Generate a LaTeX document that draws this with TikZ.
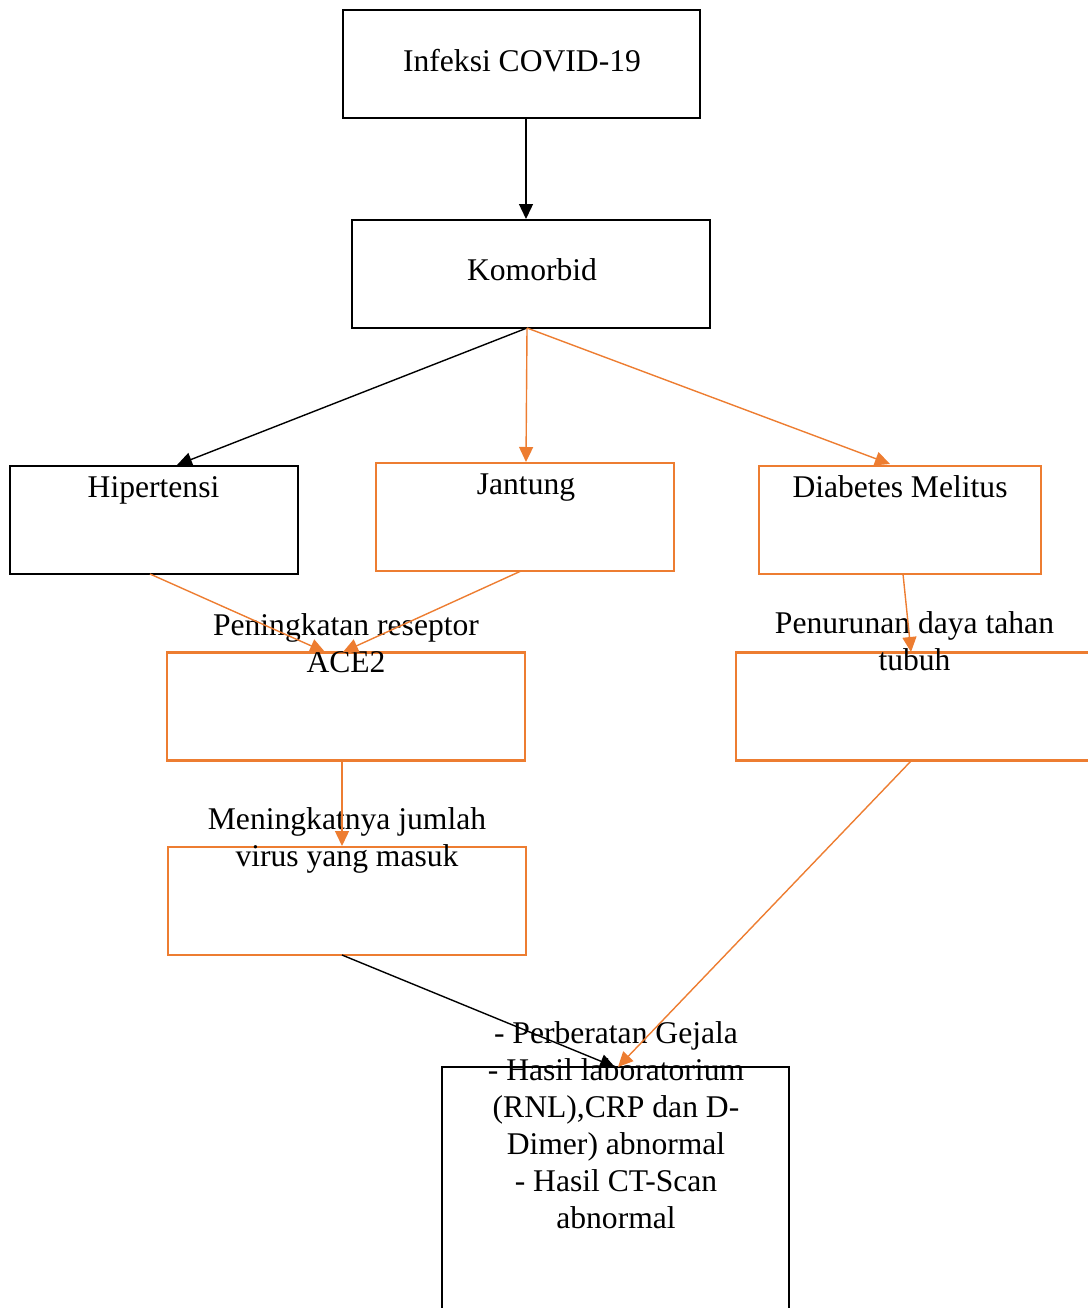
\documentclass[tikz,border=0pt]{standalone}
\usepackage{fontspec}
\setmainfont{Liberation Serif}
\usetikzlibrary{arrows.meta}
\definecolor{orng}{HTML}{ED7D31}
\tikzset{
  boxk/.style={draw=black, line width=2.8pt, minimum width=#1, inner sep=0pt, minimum height=108pt},
  boxo/.style={draw=orng, line width=2.8pt, minimum width=#1, inner sep=0pt, minimum height=108pt},
  txt/.style={anchor=base, inner sep=0pt, font=\fontsize{31.6}{37}\selectfont},
  conk/.style={draw=black, line width=1.4pt, -{Triangle[length=15pt,width=14pt]}},
  cono/.style={draw=orng, line width=1.4pt, -{Triangle[length=15pt,width=14pt]}}
}
\newcommand{\lns}[1]{\begin{tabular}[t]{@{}c@{}}#1\end{tabular}}
\begin{document}
\begin{tikzpicture}[x=1pt,y=-1pt]
\useasboundingbox (0,0) rectangle (1087,1308);
% boxes
\node[boxk=357pt] (b1) at (521.5,64) {};
\node[boxk=358pt] (b2) at (531,274) {};
\node[boxk=288pt] (hip) at (154,520) {};
\node[boxo=298pt] (jan) at (525,517) {};
\node[boxo=282pt] (dia) at (900,520) {};
\node[boxo=358pt] (ace) at (346,706.5) {};
\node[boxo=356pt] (pen) at (914,706.5) {};
\node[boxo=358pt] (vir) at (347,901) {};
\node[boxk=347pt, minimum height=260pt] (fin) at (615.5,1197) {};
% texts
\node[txt] (t1) at (522,72) {Infeksi COVID-19};
\node[txt] (t2) at (532,280) {Komorbid};
\node[txt] (t3) at (153.5,497) {Hipertensi};
\node[txt] (t4) at (526,494) {Jantung};
\node[txt] (t5) at (900,497) {Diabetes Melitus};
\node[txt] (t6) at (346,635) {\lns{Peningkatan reseptor\\ACE2}};
\node[txt] (t7) at (914.5,633) {\lns{Penurunan daya tahan\\tubuh}};
\node[txt] (t8) at (347,829) {\lns{Meningkatnya jumlah\\virus yang masuk}};
\node[txt] (t9) at (616,1043) {\lns{- Perberatan Gejala\\- Hasil laboratorium\\(RNL),CRP dan D-\\Dimer) abnormal\\- Hasil CT-Scan\\abnormal}};
% connector end points
\coordinate (c1s) at (526,118);
\coordinate (c1e) at (526,219);
\coordinate (c2s) at (527,328);
\coordinate (hipT) at (177,465);
\coordinate (janT) at (526,462);
\coordinate (diaT) at (890,464);
\coordinate (hipB) at (150,574);
\coordinate (janB) at (521,571);
\coordinate (aceT1) at (325,652);
\coordinate (aceT2) at (343,652);
\coordinate (diaB) at (903,574);
\coordinate (penT) at (911,652);
\coordinate (aceB) at (342,761);
\coordinate (virT) at (342,846);
\coordinate (virB) at (342,955);
\coordinate (penB) at (911,761);
\coordinate (finT1) at (615,1067);
\coordinate (finT2) at (618,1067);
% connectors
\draw[conk] (c1s) -- (c1e);
\draw[conk] (c2s) -- (hipT);
\draw[cono] (c2s) -- (janT);
\draw[cono] (c2s) -- (diaT);
\draw[cono] (hipB) -- (aceT1);
\draw[cono] (janB) -- (aceT2);
\draw[cono] (diaB) -- (penT);
\draw[cono] (aceB) -- (virT);
\draw[conk] (virB) -- (finT1);
\draw[cono] (penB) -- (finT2);
\end{tikzpicture}
\end{document}
